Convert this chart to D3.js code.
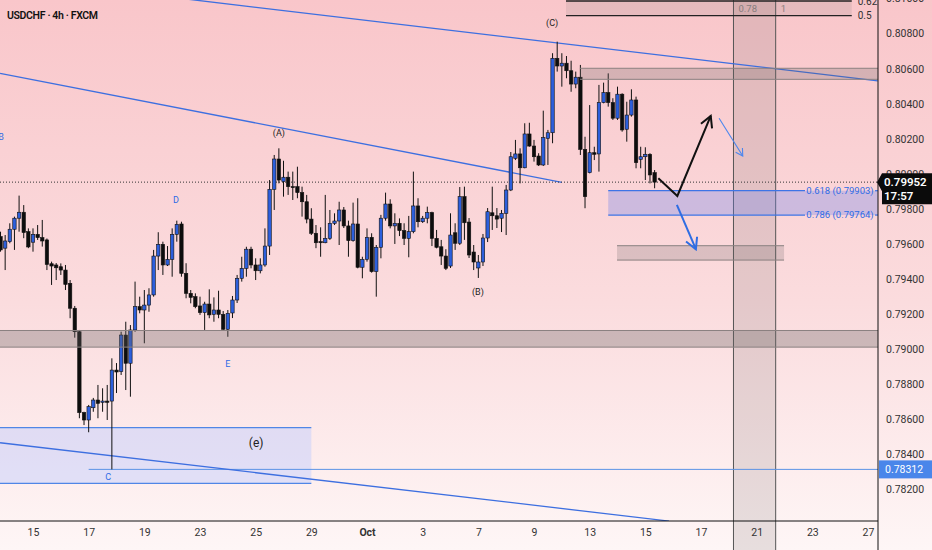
<!DOCTYPE html>
<html><head><meta charset="utf-8">
<script src="https://cdn.jsdelivr.net/npm/d3@7"></script>
<style>html,body{margin:0;padding:0;overflow:hidden;background:#fdf3f3}</style>
</head><body><svg id="c" width="932" height="550"></svg>
<script>
// ---------- DATA ----------
const firstIndex = -7; // candle index of first visible 4h bar (index 0 = Sep 15 00:00)
const opens = [0.79641,0.79575,0.79612,0.79683,0.79746,0.79780,0.79669,0.79609,0.79654,0.79635,0.79622,0.79486,0.79479,0.79469,0.79450,0.79374,0.79232,0.79098,0.78636,0.78594,0.78664,0.78708,0.78695,0.78702,0.78702,0.78879,0.78870,0.79079,0.78918,0.79108,0.79241,0.79222,0.79250,0.79308,0.79530,0.79597,0.79479,0.79511,0.79654,0.79713,0.79431,0.79317,0.79298,0.79245,0.79207,0.79256,0.79197,0.79222,0.79197,0.79112,0.79205,0.79279,0.79403,0.79460,0.79569,0.79479,0.79446,0.79479,0.79587,0.79911,0.80084,0.79955,0.79980,0.79926,0.79926,0.79892,0.79840,0.79741,0.79660,0.79612,0.79606,0.79631,0.79717,0.79730,0.79793,0.79702,0.79618,0.79713,0.79466,0.79511,0.79637,0.79441,0.79580,0.79746,0.79827,0.79702,0.79717,0.79675,0.79631,0.79669,0.79816,0.79726,0.79746,0.79778,0.79631,0.79583,0.79530,0.79473,0.79663,0.79603,0.79869,0.79724,0.79553,0.79462,0.79496,0.79633,0.79777,0.79760,0.79746,0.79774,0.79907,0.80088,0.80113,0.80034,0.80227,0.80158,0.80101,0.80050,0.80202,0.80234,0.80659,0.80615,0.80631,0.80588,0.80512,0.80551,0.80139,0.80006,0.80120,0.80113,0.80406,0.80463,0.80406,0.80317,0.80454,0.80254,0.80335,0.80421,0.80082,0.80097,0.80111,0.80006];
const highs = [0.79669,0.79650,0.79717,0.79755,0.79875,0.79821,0.79688,0.79688,0.79707,0.79736,0.79630,0.79498,0.79490,0.79488,0.79479,0.79393,0.79245,0.79108,0.78641,0.78680,0.78720,0.78794,0.78775,0.78794,0.78946,0.78919,0.79098,0.79155,0.79136,0.79384,0.79298,0.79336,0.79346,0.79565,0.79666,0.79612,0.79587,0.79688,0.79732,0.79726,0.79489,0.79336,0.79317,0.79298,0.79269,0.79340,0.79294,0.79332,0.79216,0.79222,0.79302,0.79422,0.79526,0.79583,0.79583,0.79517,0.79517,0.79688,0.79964,0.80107,0.80145,0.80074,0.80012,0.80012,0.80040,0.79926,0.79879,0.79803,0.79707,0.79694,0.79879,0.79793,0.79774,0.79840,0.79810,0.79732,0.79835,0.79860,0.79526,0.79688,0.79660,0.79593,0.79765,0.79892,0.79854,0.79774,0.79745,0.79717,0.79759,0.80012,0.79860,0.79759,0.79812,0.79783,0.79679,0.79622,0.79569,0.79774,0.79717,0.79924,0.79926,0.79747,0.79593,0.79536,0.79656,0.79804,0.79926,0.79804,0.79793,0.79936,0.80124,0.80193,0.80145,0.80288,0.80291,0.80193,0.80117,0.80360,0.80250,0.80688,0.80754,0.80688,0.80672,0.80645,0.80583,0.80621,0.80211,0.80392,0.80154,0.80507,0.80520,0.80573,0.80431,0.80497,0.80459,0.80411,0.80482,0.80440,0.80154,0.80151,0.80117,0.80021];
const lows = [0.79555,0.79450,0.79603,0.79565,0.79669,0.79632,0.79575,0.79555,0.79622,0.79584,0.79450,0.79365,0.79393,0.79422,0.79336,0.79175,0.79064,0.78604,0.78565,0.78524,0.78641,0.78604,0.78641,0.78594,0.78312,0.78748,0.78851,0.78765,0.78727,0.79098,0.79203,0.79032,0.79212,0.79298,0.79450,0.79422,0.79473,0.79412,0.79612,0.79412,0.79289,0.79260,0.79232,0.79194,0.79108,0.79175,0.79155,0.79175,0.79108,0.79069,0.79176,0.79262,0.79384,0.79412,0.79460,0.79393,0.79431,0.79469,0.79536,0.79793,0.79945,0.79869,0.79879,0.79850,0.79860,0.79755,0.79717,0.79650,0.79575,0.79526,0.79603,0.79622,0.79707,0.79593,0.79690,0.79526,0.79612,0.79460,0.79403,0.79498,0.79435,0.79298,0.79517,0.79732,0.79688,0.79599,0.79644,0.79593,0.79523,0.79660,0.79694,0.79719,0.79717,0.79587,0.79574,0.79479,0.79450,0.79462,0.79565,0.79593,0.79622,0.79519,0.79450,0.79405,0.79473,0.79610,0.79679,0.79690,0.79667,0.79650,0.79901,0.80078,0.79945,0.80031,0.80154,0.80069,0.80044,0.80044,0.80050,0.80174,0.80583,0.80497,0.80545,0.80468,0.80488,0.80107,0.79803,0.80002,0.80078,0.80012,0.80402,0.80383,0.80307,0.80307,0.80240,0.80183,0.80326,0.80031,0.80031,0.79964,0.79945,0.79917];
const closes = [0.79565,0.79616,0.79683,0.79746,0.79780,0.79664,0.79582,0.79654,0.79635,0.79616,0.79482,0.79473,0.79463,0.79450,0.79368,0.79232,0.79098,0.78636,0.78594,0.78670,0.78708,0.78689,0.78702,0.78695,0.78879,0.78868,0.79079,0.78918,0.79108,0.79241,0.79222,0.79250,0.79308,0.79530,0.79597,0.79479,0.79511,0.79654,0.79711,0.79431,0.79317,0.79294,0.79241,0.79207,0.79256,0.79194,0.79222,0.79197,0.79112,0.79203,0.79279,0.79403,0.79460,0.79569,0.79479,0.79446,0.79479,0.79587,0.79911,0.80084,0.79964,0.79980,0.79926,0.79923,0.79892,0.79840,0.79741,0.79660,0.79606,0.79606,0.79631,0.79717,0.79730,0.79793,0.79702,0.79618,0.79713,0.79466,0.79511,0.79637,0.79441,0.79580,0.79746,0.79827,0.79702,0.79717,0.79675,0.79631,0.79669,0.79816,0.79726,0.79746,0.79778,0.79631,0.79580,0.79530,0.79460,0.79650,0.79603,0.79869,0.79720,0.79536,0.79496,0.79496,0.79633,0.79783,0.79760,0.79741,0.79774,0.79907,0.80097,0.80113,0.80034,0.80227,0.80158,0.80097,0.80050,0.80206,0.80234,0.80659,0.80615,0.80631,0.80588,0.80512,0.80551,0.80139,0.79869,0.80120,0.80111,0.80406,0.80463,0.80406,0.80317,0.80454,0.80250,0.80335,0.80421,0.80063,0.80097,0.80111,0.79993,0.79952];

const timeTickIdx = [0,12,24,36,48,60,72,84,96,108,120,132,144,156,168,180];
const timeTickLabels = ["15","17","19","23","25","29","Oct","3","7","9","13","15","17","21","23","27"];
const priceTicks = [0.782,0.784,0.786,0.788,0.790,0.792,0.794,0.796,0.798,0.800,0.802,0.804,0.806,0.808,0.810];

const lastPrice = 0.79952, lastTimer = "17:57";
const markedLow = 0.78312, markedLowFrom = 12;

// trend lines [[idx, price],[idx, price]]
const trendLines = [
  [[30.6,0.81005],[182.1,0.80530]],
  [[-7.1,0.80573],[114.0,0.79951]],
  [[-7.1,0.78464],[137.1,0.78017]]
];
// rectangles: [fromIdx, toIdx, priceTop, priceBottom]
const supportZone = [-8, 183, 0.79105, 0.79010];
const resistZone  = [117.9, 183, 0.80602, 0.80539];
const targetZone  = [125.9, 161.9, 0.79589, 0.79507];
const eZone       = [-8, 60, 0.78550, 0.78232];
const fibLevels   = [["0.618", 0.79903],["0.786", 0.79764]];
const fibFrom = 124;
const timeFib = [[151.0,"0.78"],[160.1,"1"]];
const topFib = [["0.62",0.80986],["0.5",0.80903]];
const topFibFrom = 114.9, topFibTo = 176.5;
// wave labels [text, idx, price, colour-kind]
const waveLabels = [
  ["B",-6.9,0.80210,"blue"],["D",30.8,0.79850,"blue"],["E",42.0,0.78919,"blue"],["C",16.2,0.78274,"blue"],
  ["(A)",53.0,0.80238,"dark"],["(B)",95.9,0.79330,"dark"],["(C)",111.9,0.80866,"dark"],["(e)",48.1,0.78462,"dark"]
];
// projection arrows
const pathBlack = [[134.8,0.79974],[138.9,0.79873],[146.1,0.80330]];
const pathBlue  = [[138.8,0.79822],[142.9,0.79569]];
const pathThin  = [[147.9,0.80317],[153.0,0.80101]];

// ---------- CHART ----------
const W=932,H=550, plotR=878, plotB=521;
const x = d3.scaleLinear().domain([0,180]).range([33,868]);
const y = d3.scaleLinear().domain([0.782,0.808]).range([489,33.6]);
const svg = d3.select("#c");
const defs = svg.append("defs");
const g = defs.append("linearGradient").attr("id","bg").attr("x1",0).attr("y1",0).attr("x2",0).attr("y2",1);
g.append("stop").attr("offset","0%").attr("stop-color","#f9c6ca");
g.append("stop").attr("offset","55%").attr("stop-color","#fbdcde");
g.append("stop").attr("offset","100%").attr("stop-color","#fef6f6");
defs.append("clipPath").attr("id","plot").append("rect").attr("x",0).attr("y",0).attr("width",plotR).attr("height",plotB);
function marker(id,color,len,half,sw){
  defs.append("marker").attr("id",id).attr("markerUnits","userSpaceOnUse")
    .attr("viewBox",`${-len-2} ${-half-2} ${len+4} ${2*half+4}`).attr("markerWidth",len+4).attr("markerHeight",2*half+4)
    .attr("refX",0).attr("refY",0).attr("orient","auto")
    .append("path").attr("d",`M${-len},${-half}L0,0L${-len},${half}`).attr("fill","none").attr("stroke",color).attr("stroke-width",sw);
}
marker("mBlack","#111",11,6,2); marker("mBlue","#2f6de3",11,6,2); marker("mThin","#4b86ee",7,4,1.1);

svg.append("rect").attr("width",W).attr("height",H).attr("fill","url(#bg)");

// vertical fib time band (extends to the bottom)
svg.append("rect").attr("x",x(timeFib[0][0])).attr("width",x(timeFib[1][0])-x(timeFib[0][0])).attr("y",0).attr("height",H)
  .attr("fill","rgba(110,100,100,0.16)");
timeFib.forEach(t=>{
  svg.append("line").attr("x1",x(t[0])).attr("x2",x(t[0])).attr("y1",0).attr("y2",H).attr("stroke","#555").attr("stroke-width",1);
  svg.append("text").attr("x",x(t[0])+5).attr("y",12).text(t[1]).attr("font-family","Roboto").attr("font-size",9.5).attr("fill","#8a7f80");
});

const P = svg.append("g").attr("clip-path","url(#plot)");

// top fib box
P.append("rect").attr("x",x(topFibFrom)).attr("width",x(topFibTo)-x(topFibFrom)).attr("y",y(topFib[0][1])).attr("height",y(topFib[1][1])-y(topFib[0][1]))
  .attr("fill","rgba(120,110,110,0.14)");
topFib.forEach(f=>{
  P.append("line").attr("x1",x(topFibFrom)).attr("x2",x(topFibTo)).attr("y1",y(f[1])).attr("y2",y(f[1])).attr("stroke","#222").attr("stroke-width",1.3);
  P.append("text").attr("x",x(topFibTo)+6).attr("y",y(f[1])+3.5).text(f[0]).attr("font-family","Roboto").attr("font-size",10).attr("fill","#333");
});

// e zone
P.append("rect").attr("x",x(eZone[0])).attr("width",x(eZone[1])-x(eZone[0])).attr("y",y(eZone[2])).attr("height",y(eZone[3])-y(eZone[2]))
  .attr("fill","rgba(190,205,255,0.45)");
[eZone[2],eZone[3]].forEach(p=>P.append("line").attr("x1",x(eZone[0])).attr("x2",x(eZone[1])).attr("y1",y(p)).attr("y2",y(p)).attr("stroke","#4f86e6").attr("stroke-width",1.2));

// marked low line
P.append("line").attr("x1",x(markedLowFrom)).attr("x2",plotR).attr("y1",y(markedLow)).attr("y2",y(markedLow)).attr("stroke","#5b93e6").attr("stroke-width",1);

// trend lines
trendLines.forEach(l=>P.append("line").attr("x1",x(l[0][0])).attr("y1",y(l[0][1])).attr("x2",x(l[1][0])).attr("y2",y(l[1][1]))
  .attr("stroke","#3d6fe0").attr("stroke-width",1.3));

// last price dotted line
P.append("line").attr("x1",0).attr("x2",plotR).attr("y1",y(lastPrice)).attr("y2",y(lastPrice)).attr("stroke","#333").attr("stroke-width",1).attr("stroke-dasharray","1,2");

// candles
const candles = opens.map((o,k)=>({i:firstIndex+k,o,h:highs[k],l:lows[k],c:closes[k]}));
const bw = 3.4;
const cg = P.append("g");
cg.selectAll("line.w").data(candles).join("line").attr("class","w")
  .attr("x1",d=>x(d.i)).attr("x2",d=>x(d.i)).attr("y1",d=>y(d.h)).attr("y2",d=>y(d.l)).attr("stroke","#111").attr("stroke-width",1);
cg.selectAll("rect.b").data(candles).join("rect").attr("class","b")
  .attr("x",d=>x(d.i)-bw/2).attr("width",bw)
  .attr("y",d=>y(Math.max(d.o,d.c))).attr("height",d=>Math.max(1,Math.abs(y(d.o)-y(d.c))))
  .attr("fill",d=>d.c>=d.o?"#2c5fdc":"#0d0d0d").attr("stroke","#111").attr("stroke-width",0.6);

// zones on top
function zone(z,fill,stroke){
  P.append("rect").attr("x",x(z[0])).attr("width",x(z[1])-x(z[0])).attr("y",y(z[2])).attr("height",y(z[3])-y(z[2])).attr("fill",fill);
  [z[2],z[3]].forEach(p=>P.append("line").attr("x1",x(z[0])).attr("x2",x(z[1])).attr("y1",y(p)).attr("y2",y(p)).attr("stroke",stroke).attr("stroke-width",1));
}
zone(supportZone,"rgba(105,100,100,0.33)","#8a8080");
zone(resistZone,"rgba(105,100,100,0.25)","#8a8080");
zone(targetZone,"rgba(105,100,100,0.22)","#8a8080");

// fib retracement zone
P.append("rect").attr("x",x(fibFrom)).attr("width",plotR-x(fibFrom)).attr("y",y(fibLevels[0][1])).attr("height",y(fibLevels[1][1])-y(fibLevels[0][1]))
  .attr("fill","rgba(110,130,235,0.32)");
fibLevels.forEach(f=>{
  const yy=y(f[1]);
  P.append("line").attr("x1",x(fibFrom)).attr("x2",805).attr("y1",yy).attr("y2",yy).attr("stroke","#3d74e6").attr("stroke-width",1.2);
  P.append("line").attr("x1",875).attr("x2",plotR).attr("y1",yy).attr("y2",yy).attr("stroke","#3d74e6").attr("stroke-width",1.2);
  P.append("text").attr("x",840).attr("y",yy+3.3).attr("text-anchor","middle").text(`${f[0]} (${f[1].toFixed(5)})`)
    .attr("font-family","Roboto").attr("font-size",9.5).attr("fill","#2e6be6");
});

// arrows
const lineGen = d3.line().x(d=>x(d[0])).y(d=>y(d[1]));
P.append("path").attr("d",lineGen(pathBlack)).attr("fill","none").attr("stroke","#111").attr("stroke-width",2).attr("marker-end","url(#mBlack)");
P.append("path").attr("d",lineGen(pathBlue)).attr("fill","none").attr("stroke","#2f6de3").attr("stroke-width",2).attr("marker-end","url(#mBlue)");
P.append("path").attr("d",lineGen(pathThin)).attr("fill","none").attr("stroke","#4b86ee").attr("stroke-width",1.1).attr("marker-end","url(#mThin)");

// wave labels
waveLabels.forEach(w=>P.append("text").attr("x",x(w[1])).attr("y",y(w[2])+3.5).attr("text-anchor","middle").text(w[0])
  .attr("font-family","Roboto").attr("font-size",w[0]==="(e)"?12:9).attr("fill",w[3]==="blue"?"#2e6be6":"#222"));

// title
svg.append("text").attr("x",7).attr("y",19).text("USDCHF · 4h · FXCM").attr("font-family","Roboto").attr("font-weight",600)
  .attr("font-size",10.5).attr("letter-spacing",-0.35).attr("fill","#111");

// axes
const ya = svg.append("g").attr("transform",`translate(${plotR},0)`)
  .call(d3.axisRight(y).tickValues(priceTicks).tickSize(0).tickPadding(8).tickFormat(d=>d.toFixed(5)));
ya.select(".domain").remove();
ya.selectAll("text").attr("font-family","Roboto").attr("font-size",10.5).attr("fill","#333");
const xa = svg.append("g").attr("transform",`translate(0,${plotB})`)
  .call(d3.axisBottom(x).tickValues(timeTickIdx).tickSize(0).tickPadding(8).tickFormat((d,k)=>timeTickLabels[k]));
xa.select(".domain").remove();
xa.selectAll("text").attr("font-family","Roboto").attr("font-size",10.5).attr("fill","#333")
  .attr("font-weight",(d,k)=>timeTickLabels[k]==="Oct"?700:400);
svg.append("line").attr("x1",0).attr("x2",plotR).attr("y1",plotB).attr("y2",plotB).attr("stroke","#111").attr("stroke-width",1);
svg.append("line").attr("x1",plotR).attr("x2",plotR).attr("y1",0).attr("y2",H).attr("stroke","#111").attr("stroke-width",1);

// price labels
const ly = y(lastPrice);
svg.append("path").attr("d",`M${plotR-1},${ly} L${plotR+4},${ly-9} L${W},${ly-9} L${W},${ly+22} L${plotR+4},${ly+22} L${plotR+4},${ly+9} Z`).attr("fill","#0b0b0b");
svg.append("text").attr("x",plotR+6).attr("y",ly+4).text(lastPrice.toFixed(5)).attr("font-family","Roboto").attr("font-weight",600).attr("font-size",11.5).attr("fill","#fff");
svg.append("text").attr("x",plotR+6).attr("y",ly+18).text(lastTimer).attr("font-family","Roboto").attr("font-weight",600).attr("font-size",11.5).attr("fill","#fff");
const my = y(markedLow);
svg.append("rect").attr("x",plotR+1).attr("y",my-9).attr("width",W-plotR).attr("height",18).attr("fill","#4a86ea");
svg.append("text").attr("x",plotR+7).attr("y",my+4).text(markedLow.toFixed(5)).attr("font-family","Roboto").attr("font-size",10.5).attr("fill","#fff");
</script></body></html>
